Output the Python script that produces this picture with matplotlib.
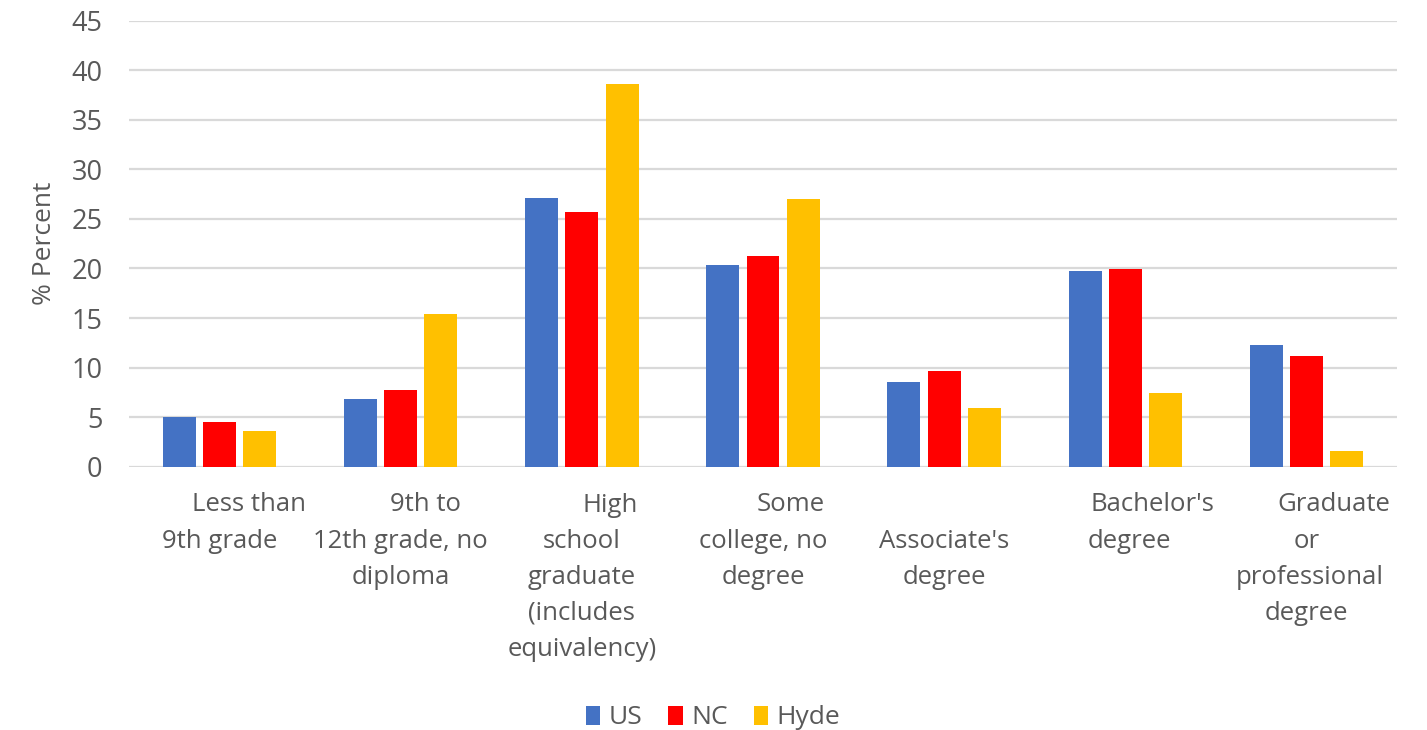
import numpy as np
import matplotlib
matplotlib.use("Agg")
import matplotlib.pyplot as plt
from matplotlib.patches import Patch

# educational attainment, % of population 25+
categories = [
    "Less than 9th grade",
    "9th to 12th grade, no diploma",
    "High school graduate (includes equivalency)",
    "Some college, no degree",
    "Associate's degree",
    "Bachelor's degree",
    "Graduate or professional degree",
]
us = [5.0, 6.8, 27.1, 20.4, 8.5, 19.7, 12.3]
nc = [4.5, 7.7, 25.7, 21.3, 9.7, 19.9, 11.2]
hyde = [3.6, 15.4, 38.6, 27.0, 5.9, 7.4, 1.6]
series_names = ["US", "NC", "Hyde"]

# wrapped label lines, horizontal nudge of each line (px) and starting row
label_lines = [
    [("Less than", 29), ("9th grade", 0)],
    [("9th to", 25), ("12th grade, no", 0), ("diploma", 0)],
    [("High", 28), ("school", 0), ("graduate", 0), ("(includes", 0), ("equivalency)", 0)],
    [("Some", 28), ("college, no", 0), ("degree", 0)],
    [("Associate's", 0), ("degree", 0)],
    [("Bachelor's", 27), ("degree", 4)],
    [("Graduate", 27), ("or", 0), ("professional", 3), ("degree", 0)],
]
label_start_row = [0, 0, 0, 0, 1, 0, 0]

colors = ["#4472C4", "#FF0000", "#FFC000"]
text_color = "#595959"
grid_color = "#D9D9D9"

plt.rcParams["font.family"] = ["Open Sans", "DejaVu Sans"]

W, H = 1427, 730
fig = plt.figure(figsize=(W / 100, H / 100), dpi=100)
ax = fig.add_axes([129 / W, 1 - 466.7 / H, (1397 - 129) / W, (466.7 - 20.7) / H])

x = np.arange(len(categories))
width = 0.182
step = 0.222
for k, (vals, name) in enumerate(zip([us, nc, hyde], series_names)):
    ax.bar(x + (k - 1) * step, vals, width, color=colors[k], label=name, zorder=3)

ax.set_xlim(-0.5, len(categories) - 0.5)
ax.set_ylim(0, 45)
ax.set_yticks(np.arange(0, 46, 5))
ax.yaxis.grid(True, color=grid_color, linewidth=1.6, zorder=0)
ax.set_axisbelow(True)
for s in ax.spines.values():
    s.set_visible(False)
ax.tick_params(axis="y", length=0, pad=19, labelsize=19.5, labelcolor=text_color)
ax.set_xticks([])

ax.set_ylabel("% Percent", fontsize=19, color=text_color)
ax.yaxis.set_label_coords(-(129 - 57) / (1397 - 129), 0.5)

# category labels, one line at a time
px_per_unit = (1397 - 129) / len(categories)
first_row_y = 505
row_step = 36
for i, lines in enumerate(label_lines):
    for j, (txt, nudge) in enumerate(lines):
        row = label_start_row[i] + j
        ypix = first_row_y + row * row_step
        ax.text(i + nudge / px_per_unit, 1 - (ypix - 20.7) / (466.7 - 20.7), txt,
                transform=ax.get_xaxis_transform(), ha="center", va="center",
                fontsize=18.5, color=text_color)

handles = [Patch(facecolor=c, label=n) for c, n in zip(colors, series_names)]
fig.legend(handles=handles, loc="center", bbox_to_anchor=(713 / W, 1 - 718 / H),
           ncol=3, frameon=False, fontsize=19, labelcolor=text_color,
           handlelength=0.55, handleheight=0.7, handletextpad=0.3, columnspacing=1.0)

fig.savefig("out.png", dpi=100, facecolor="white")
